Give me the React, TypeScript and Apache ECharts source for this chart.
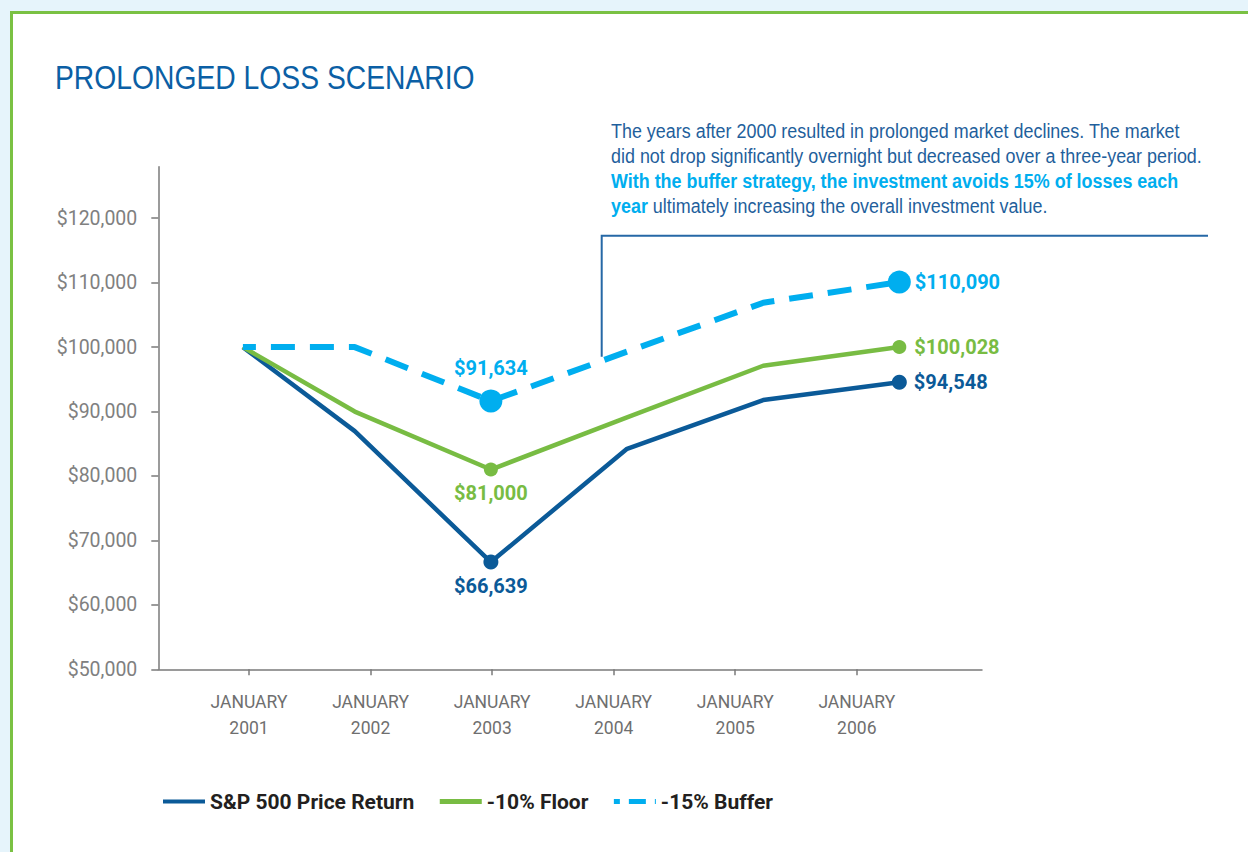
import React, { useEffect, useRef } from 'react';
import * as echarts from 'echarts';

// ---- data ----
const tickYears = [2001, 2002, 2003, 2004, 2005, 2006];
// horizontal position of each plotted point, in years on the axis
const pointPos = [2000.95, 2001.87, 2002.99, 2004.11, 2005.23, 2006.35];
const spValues = [100000, 86957, 66639, 84219, 91791, 94548];
const floorValues = [100000, 90000, 81000, 89100, 97110, 100028];
const bufferValues = [100000, 100000, 91634, 99300, 106884, 110090];
const yTicks = [50000, 60000, 70000, 80000, 90000, 100000, 110000, 120000];
const markedIdx = [2, 5];

const seriesNames = ['S&P 500 Price Return', '-10% Floor', '-15% Buffer'];

const C_DARK = '#0b5a98';
const C_GREEN = '#78bc43';
const C_LIGHT = '#00aeef';
const HELV = "'Liberation Sans', Arial, sans-serif";
const ROBOTO = "Roboto, 'Liberation Sans', sans-serif";

const money = (v: number) => '$' + v.toLocaleString('en-US');

function buildMarkers(values: number[], color: string, size: number, labels: any[]) {
  return markedIdx.map((idx, k) => ({
    value: [pointPos[idx], values[idx]],
    symbolSize: size,
    label: { show: true, formatter: money(values[idx]), color, ...labels[k] },
  }));
}

export default function App() {
  const ref = useRef<HTMLDivElement>(null);
  useEffect(() => {
    if (!ref.current) return;
    const chart = echarts.init(ref.current, null, { renderer: 'svg' });
    const lineData = (vals: number[]) => vals.map((v, i) => [pointPos[i], v]);
    const labelFont = { fontFamily: ROBOTO, fontSize: 20, fontWeight: 'bold', lineHeight: 22 };
    chart.setOption({
      animation: false,
      backgroundColor: '#e6f4fb',
      graphic: [
        {
          type: 'rect',
          z: -10,
          shape: { x: 11.5, y: 12.5, width: 1400, height: 1000 },
          style: { fill: '#ffffff', stroke: '#7ac143', lineWidth: 3 },
        },
        {
          type: 'text',
          x: 55,
          y: 78,
          scaleX: 0.832,
          style: {
            text: 'PROLONGED LOSS SCENARIO',
            fill: '#0b5fa5',
            font: `34px ${HELV}`,
            verticalAlign: 'middle',
          },
        },
        {
          type: 'text',
          x: 611,
          y: 117.5,
          scaleX: 0.854,
          style: {
            text:
              '{n|The years after 2000 resulted in prolonged market declines. The market}\n' +
              '{n|did not drop significantly overnight but decreased over a three-year period.}\n' +
              '{b|With the buffer strategy, the investment avoids 15% of losses each}\n' +
              '{b|year}{n| ultimately increasing the overall investment value.}',
            verticalAlign: 'top',
            rich: {
              n: { fill: '#1f5f9c', fontSize: 21, fontFamily: HELV, lineHeight: 25 },
              b: { fill: C_LIGHT, fontSize: 21, fontFamily: HELV, fontWeight: 'bold', lineHeight: 25 },
            },
          },
        },
        {
          type: 'polyline',
          z: 1,
          shape: { points: [[601.7, 356.7], [601.7, 235.7], [1208, 235.7]] },
          style: { stroke: '#2668a6', lineWidth: 2, fill: 'none' },
        },
      ],
      grid: { left: 158.3, top: 166.7, right: 266, bottom: 182.7 },
      xAxis: {
        type: 'value',
        min: 2000.254,
        max: 2007.03,
        axisLine: { show: true, lineStyle: { color: '#7a7a7a', width: 1.5 } },
        axisTick: { show: true, length: 6, customValues: tickYears, lineStyle: { color: '#7a7a7a', width: 1.5 } },
        axisLabel: {
          customValues: tickYears,
          formatter: (v: number) => `JANUARY\n${v}`,
          color: '#6f6f6f',
          fontFamily: ROBOTO,
          fontSize: 17.5,
          lineHeight: 26,
          margin: 19.4,
        },
        splitLine: { show: false },
      },
      yAxis: {
        type: 'value',
        min: 50000,
        max: 128000,
        axisLine: { show: true, lineStyle: { color: '#7a7a7a', width: 1.5 } },
        axisTick: { show: true, length: 7, customValues: yTicks, lineStyle: { color: '#7a7a7a', width: 1.5 } },
        axisLabel: {
          customValues: yTicks,
          formatter: (v: number) => money(v),
          color: '#808080',
          fontFamily: ROBOTO,
          fontSize: 19.5,
          margin: 21,
        },
        splitLine: { show: false },
      },
      legend: {
        left: 161,
        top: 791,
        padding: 0,
        itemWidth: 42,
        itemHeight: 14,
        itemGap: 23,
        selectedMode: false,
        itemStyle: { color: 'transparent', borderWidth: 0, opacity: 0 },
        textStyle: { fontFamily: ROBOTO, fontSize: 21, fontWeight: 'bold', color: '#231f20' },
        data: [
          { name: seriesNames[0], lineStyle: { width: 4 } },
          { name: seriesNames[1], lineStyle: { width: 5 } },
          { name: seriesNames[2], lineStyle: { width: 5, type: [17, 9] } },
        ],
      },
      series: [
        {
          name: seriesNames[0],
          type: 'line',
          symbol: 'none',
          data: lineData(spValues),
          lineStyle: { color: C_DARK, width: 4.5 },
          itemStyle: { color: C_DARK },
          z: 2,
        },
        {
          name: seriesNames[1],
          type: 'line',
          symbol: 'none',
          data: lineData(floorValues),
          lineStyle: { color: C_GREEN, width: 4.5 },
          itemStyle: { color: C_GREEN },
          z: 3,
        },
        {
          name: seriesNames[2],
          type: 'line',
          symbol: 'none',
          data: lineData(bufferValues),
          lineStyle: { color: C_LIGHT, width: 6, type: [24, 15], dashOffset: 11, cap: 'butt' },
          itemStyle: { color: C_LIGHT },
          z: 4,
        },
        {
          name: 'sp-markers',
          type: 'scatter',
          symbol: 'circle',
          itemStyle: { color: C_DARK, opacity: 1 },
          z: 5,
          data: buildMarkers(spValues, C_DARK, 15, [
            { position: 'bottom', distance: 5, ...labelFont },
            { position: 'right', distance: 7, ...labelFont },
          ]),
        },
        {
          name: 'floor-markers',
          type: 'scatter',
          symbol: 'circle',
          itemStyle: { color: C_GREEN, opacity: 1 },
          z: 5,
          data: buildMarkers(floorValues, C_GREEN, 14, [
            { position: 'bottom', distance: 5, ...labelFont },
            { position: 'right', distance: 8, ...labelFont },
          ]),
        },
        {
          name: 'buffer-markers',
          type: 'scatter',
          symbol: 'circle',
          itemStyle: { color: C_LIGHT, opacity: 1 },
          z: 5,
          data: buildMarkers(bufferValues, C_LIGHT, 23, [
            { position: 'top', distance: 11, ...labelFont },
            { position: 'right', distance: 4, ...labelFont },
          ]),
        },
      ],
    });
    return () => chart.dispose();
  }, []);
  return (
    <div style={{ position: 'fixed', left: 0, top: 0, width: 1248, height: 852 }}>
      <div ref={ref} style={{ width: 1248, height: 852 }} />
    </div>
  );
}
